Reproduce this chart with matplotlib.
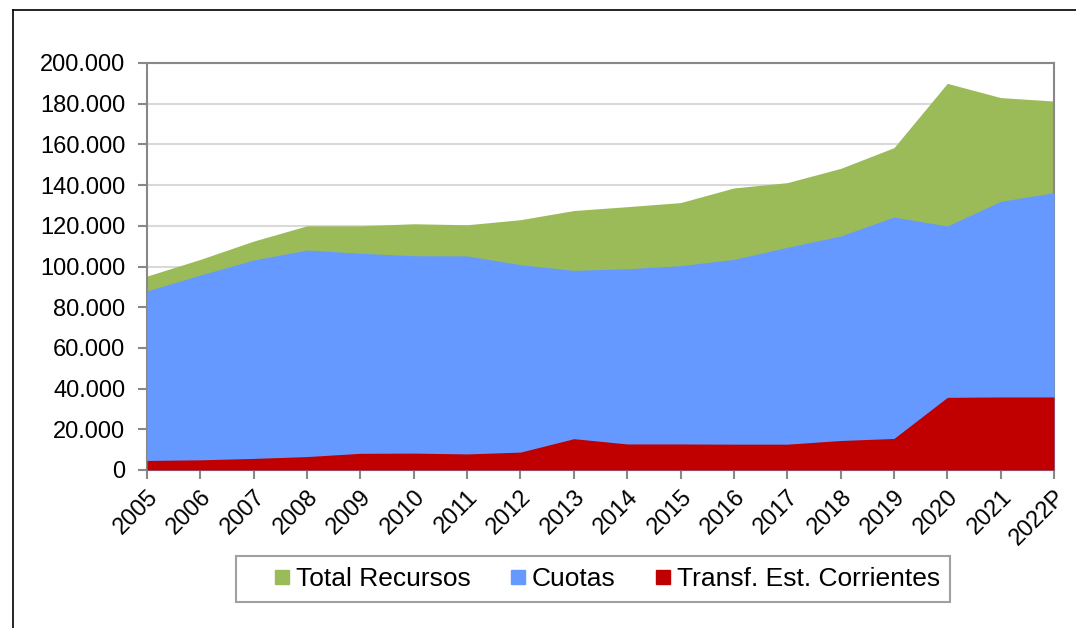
import matplotlib
matplotlib.use("Agg")
import matplotlib.pyplot as plt
from matplotlib.lines import Line2D
import numpy as np

plt.rcParams['font.family'] = ['Liberation Sans', 'DejaVu Sans']

years = ["2005", "2006", "2007", "2008", "2009", "2010", "2011", "2012", "2013",
         "2014", "2015", "2016", "2017", "2018", "2019", "2020", "2021", "2022P"]
total_recursos = [95300, 103500, 112500, 120000, 120000, 121000, 120500, 123000, 127500,
                  129400, 131400, 138600, 141200, 148200, 158400, 190000, 183000, 181300]
cuotas = [88000, 95800, 103200, 108100, 106500, 105300, 105200, 100900, 98100,
          98900, 100400, 103500, 109400, 115000, 124300, 119900, 132000, 136300]
transf = [4700, 5000, 5700, 6600, 8200, 8300, 7900, 8800, 15400,
          12800, 12800, 12700, 12700, 14500, 15500, 35700, 35900, 35900]
yticks = list(range(0, 200001, 20000))

c_total = "#9BBB59"
c_cuotas = "#6699FF"
c_transf = "#C00000"
FS = 17
LFS = 19

fig = plt.figure(figsize=(10.76, 6.28), dpi=100)
ax = fig.add_axes([147/1076, 1-470/628, (1054-147)/1076, (470-63)/628])

x = np.arange(len(years))
ax.fill_between(x, 0, total_recursos, color=c_total, lw=0, zorder=2)
ax.fill_between(x, 0, cuotas, color=c_cuotas, lw=0, zorder=3)
ax.fill_between(x, 0, transf, color=c_transf, lw=0, zorder=4)

ax.set_xlim(0, len(years)-1)
ax.set_ylim(0, 200000)
ax.set_yticks(yticks)
ax.set_yticklabels([f"{v:,}".replace(",", ".") for v in yticks], fontsize=FS)
ax.set_xticks(x)
ax.set_xticklabels(years, rotation=45, ha='right', va='top', rotation_mode='anchor', fontsize=FS)
ax.yaxis.grid(True, color="#D9D9D9", lw=1.5, zorder=1)
ax.set_axisbelow(True)
for s in ax.spines.values():
    s.set_color("#888888")
    s.set_linewidth(1.5)
ax.tick_params(axis='both', direction='out', color="#888888", width=1.5, length=6.5)
ax.tick_params(axis='y', pad=9)
ax.tick_params(axis='x', pad=5)

handles = [Line2D([], [], marker='s', ls='', color=c, markersize=10) for c in (c_total, c_cuotas, c_transf)]
leg = fig.legend(handles, ["Total Recursos", "Cuotas", "Transf. Est. Corrientes"],
                 loc='center', bbox_to_anchor=(593/1076, 1-579/628), ncol=3, fontsize=LFS,
                 frameon=True, fancybox=False, edgecolor="#888888", handletextpad=-0.81,
                 columnspacing=0.44, borderpad=0.4, handlelength=2.69)
leg.get_frame().set_linewidth(1.5)

# outer border
fig.add_artist(Line2D([13/1076, 13/1076], [0, 1-10/628], color='black', lw=1.2, transform=fig.transFigure))
fig.add_artist(Line2D([13/1076, 1], [1-10/628, 1-10/628], color='black', lw=1.2, transform=fig.transFigure))

fig.savefig("out.png", dpi=100)
